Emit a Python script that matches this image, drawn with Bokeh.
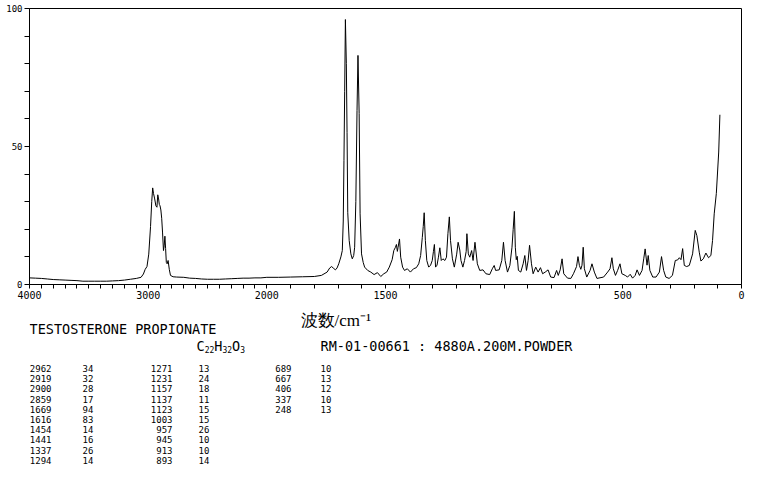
import numpy as np
from bokeh.plotting import figure
from bokeh.models import Range1d, FixedTicker
from bokeh.layouts import column
from bokeh.embed import file_html
from bokeh.resources import INLINE
from bokeh.core.properties import value

# ---------------- data ----------------
wavenumber = [
    4000, 3950, 3900, 3850, 3800, 3750, 3700, 3650, 3600, 3550, 3500, 3450, 3400, 3350, 3300,
    3250, 3200, 3150, 3100, 3060, 3040, 3025, 3010, 2995, 2980, 2970, 2962, 2955, 2945, 2935,
    2926, 2919, 2912, 2906, 2900, 2893, 2886, 2879, 2871, 2865, 2859, 2853, 2847, 2840, 2832,
    2822, 2812, 2790, 2760, 2700, 2650, 2600, 2550, 2500, 2450, 2400, 2350, 2300, 2250, 2200,
    2150, 2100, 2050, 2000, 1950, 1900, 1850, 1800, 1770, 1746, 1735, 1727, 1718, 1711, 1704,
    1697, 1688, 1682, 1678, 1675, 1672, 1669, 1665, 1662, 1659, 1653, 1646, 1640, 1634, 1630,
    1625, 1620, 1616, 1611, 1607, 1601, 1594, 1588, 1575, 1562, 1548, 1534, 1520, 1507, 1495,
    1484, 1472, 1465, 1458, 1454, 1450, 1447, 1441, 1436, 1428, 1420, 1408, 1395, 1382, 1370,
    1360, 1352, 1345, 1341, 1337, 1332, 1326, 1318, 1310, 1303, 1298, 1294, 1289, 1283, 1277,
    1271, 1265, 1258, 1250, 1243, 1237, 1231, 1226, 1218, 1210, 1200, 1194, 1187, 1182, 1174,
    1167, 1160, 1157, 1151, 1145, 1137, 1131, 1123, 1113, 1103, 1089, 1077, 1061, 1050, 1042,
    1036, 1021, 1010, 1003, 996, 986, 976, 967, 962, 957, 953, 949, 945, 940, 930,
    920, 913, 906, 899, 893, 885, 878, 867, 857, 847, 838, 827, 815, 804, 790,
    779, 772, 764, 756, 749, 733, 719, 708, 695, 689, 683, 677, 672, 667, 662,
    652, 638, 630, 620, 609, 581, 564, 554, 546, 540, 531, 522, 512, 504, 490,
    480, 469, 459, 448, 440, 430, 419, 412, 406, 398, 393, 386, 374, 360, 346,
    337, 328, 319, 305, 291, 279, 269, 262, 255, 248, 241, 231, 220, 206, 195,
    188, 178, 171, 161, 150, 139, 129, 122, 115, 106, 96, 91,
]
intensity = [
    2.4, 2.3, 2.2, 2.0, 1.8, 1.7, 1.6, 1.5, 1.4, 1.2, 1.2, 1.2, 1.2, 1.2, 1.3,
    1.4, 1.6, 1.9, 2.2, 2.6, 3.8, 5.5, 6.5, 11, 21, 30, 35, 33, 31, 28.5,
    28, 32.5, 31, 29, 28.5, 27, 24, 19, 12.3, 14, 17.5, 13, 8, 7.5, 8.7,
    5.5, 3.3, 2.8, 2.7, 2.6, 2.3, 2.2, 2.0, 1.9, 1.9, 1.9, 2.0, 2.1, 2.2, 2.3,
    2.3, 2.4, 2.4, 2.6, 2.6, 2.7, 2.8, 2.9, 3.3, 4.5, 6.0, 6.5, 5.8, 5.3, 6.0,
    7.5, 10.0, 12.3, 23, 45, 70, 96, 80, 55, 26, 15.9, 11.1, 9.3, 10.5, 13.5,
    30, 63, 83, 62, 25.6, 11.1, 8.0, 6.3, 5.1, 4.5, 3.6, 4.3, 2.9, 3.9, 4.5,
    6.3, 9.0, 12.3, 13.5, 14.5, 12.0, 13.5, 16.5, 9.9, 6.3, 5.1, 5.7, 4.5, 5.7, 6.1,
    7.5, 10.5, 17, 21, 26, 15.9, 8.7, 6.3, 7.0, 8.7, 12, 14.5, 6.3, 7.0, 9.9,
    13.3, 8.7, 9.3, 8.7, 9.9, 18.4, 24.5, 15.9, 9.3, 6.3, 11, 15.3, 12.5, 8.7, 6.3,
    8.7, 12, 18.4, 11.1, 9.9, 12.3, 8.7, 15.3, 7.5, 5.1, 5.3, 3.9, 3.6, 5.7, 6.9,
    5.1, 5.3, 8.7, 15.3, 8.7, 4.5, 6.9, 13.5, 20, 26.5, 13.5, 9.0, 10.2, 5.1, 4.5,
    7.5, 10.5, 5.1, 8.7, 14.2, 7.5, 3.9, 6.3, 4.5, 6.1, 3.9, 4.5, 5.3, 2.7, 2.5,
    5.1, 3.3, 5.3, 9.3, 3.9, 2.3, 2.2, 3.9, 6.5, 10.1, 6.9, 5.5, 7.0, 13.5, 5.7,
    2.7, 5.1, 7.5, 4.5, 2.2, 2.7, 4.5, 5.7, 9.7, 5.7, 3.3, 5.1, 7.5, 3.9, 3.3,
    2.7, 3.7, 2.3, 3.3, 5.3, 3.3, 5.1, 9.3, 12.9, 7.0, 10.5, 5.1, 2.7, 2.7, 4.5,
    10.1, 5.1, 2.7, 2.2, 3.3, 8.7, 8.9, 9.7, 9.0, 13, 6.9, 6.5, 6.9, 11.1, 19.6,
    17.7, 11.7, 8.5, 9.3, 11.4, 9.7, 10.5, 15.9, 25.6, 33, 48, 61.5,
]

x_tick_values = [4000, 3000, 2000, 1500, 500, 0]
x_minor_step = 100
y_tick_values = [0, 50, 100]
y_minor_step = 10

peak_wn_col1 = [2962, 2919, 2900, 2859, 1669, 1616, 1454, 1441, 1337, 1294]
peak_int_col1 = [34, 32, 28, 17, 94, 83, 14, 16, 26, 14]
peak_wn_col2 = [1271, 1231, 1157, 1137, 1123, 1003, 957, 945, 913, 893]
peak_int_col2 = [13, 24, 18, 11, 15, 15, 26, 10, 10, 14]
peak_wn_col3 = [689, 667, 406, 337, 248]
peak_int_col3 = [10, 13, 12, 10, 13]

compound_name = "TESTOSTERONE PROPIONATE"
formula_parts = ["C", "22", "H", "32", "O", "3"]
formula_is_sub = [False, True, False, True, False, True]
sample_info = "RM-01-00661 : 4880A.200M.POWDER"
x_axis_title = "波数/cm⁻¹"


# compressed scale above 2000 cm-1 (half the scale of the 2000-0 part)
def axis_pos(wn):
    wn = np.asarray(wn, dtype=float)
    return np.where(wn > 2000, 2000 + (wn - 2000) / 2.0, wn)


MONO = "DejaVu Sans Mono"
W = 750
H_TOP = 304
FRAME_L, FRAME_R = 29, 741

# ---------------- spectrum figure ----------------
p = figure(width=W, height=H_TOP,
           x_range=Range1d(float(axis_pos(4000)), float(axis_pos(0))),
           y_range=Range1d(0, 100),
           output_backend="svg", toolbar_location=None,
           min_border_left=FRAME_L, min_border_right=W - FRAME_R, min_border_top=8, min_border_bottom=20)
p.line(axis_pos(wavenumber), intensity, line_color="black", line_width=1)

# every 100 cm-1 gets a tick; only the listed values get a label
all_x_wn = list(range(0, 4001, x_minor_step))
x_ticks = [float(v) for v in axis_pos(all_x_wn)]
p.xaxis.ticker = FixedTicker(ticks=x_ticks)
p.xaxis.major_label_overrides = {
    int(round(u)): (str(w) if w in x_tick_values else "") for u, w in zip(x_ticks, all_x_wn)
}
all_y = list(range(0, 101, y_minor_step))
p.yaxis.ticker = FixedTicker(ticks=all_y)
p.yaxis.major_label_overrides = {v: (str(v) if v in y_tick_values else "") for v in all_y}

for ax in (p.xaxis[0], p.yaxis[0]):
    ax.axis_line_color = "black"
    ax.axis_line_width = 1
    ax.major_tick_line_color = "black"
    ax.minor_tick_line_color = None
    ax.major_tick_in = 0
    ax.major_label_text_font = MONO
    ax.major_label_text_color = "black"
p.xaxis.major_tick_out = 4
p.xaxis.major_label_standoff = 2
p.xaxis.major_label_text_font_size = "10px"
p.yaxis.major_tick_out = 5
p.yaxis.major_label_standoff = 2
p.yaxis.major_label_text_font_size = "9px"
p.xgrid.visible = False
p.ygrid.visible = False
p.outline_line_color = "black"
p.outline_line_alpha = 1.0
p.outline_line_width = 1
p.background_fill_color = "white"
p.border_fill_color = "white"

# ---------------- text block figure (1 unit = 1 px, page coordinates) ----------------
H_TXT = 170
t = figure(width=W, height=H_TXT,
           x_range=Range1d(FRAME_L, FRAME_R), y_range=Range1d(H_TOP + H_TXT, H_TOP),
           output_backend="svg", toolbar_location=None,
           x_axis_location=None, y_axis_location=None,
           min_border_left=FRAME_L, min_border_right=W - FRAME_R, min_border_top=0, min_border_bottom=0)
t.xgrid.visible = False
t.ygrid.visible = False
t.outline_line_color = None
t.background_fill_color = "white"
t.border_fill_color = "white"

t.text(x=[300], y=[320], text=[x_axis_title], text_font=value("Liberation Serif"),
       text_font_size="17px", text_baseline="middle", text_align="left", text_color="black")
t.text(x=[29], y=[328], text=[compound_name], text_font=value(MONO),
       text_font_size="13.5px", text_baseline="middle", text_color="black")

# formula with subscripts
fx, fy, fsz = [], [], []
cur = 196.0
for part, sub in zip(formula_parts, formula_is_sub):
    size = 8.0 if sub else 13.5
    fx.append(cur)
    fy.append(349 if sub else 345.5)
    fsz.append(f"{size}px")
    cur += len(part) * size * 0.602
t.text(x=fx, y=fy, text=formula_parts, text_font=value(MONO), text_font_size=fsz,
       text_baseline="middle", text_color="black")

t.text(x=[320], y=[345], text=[sample_info], text_font=value(MONO),
       text_font_size="13.5px", text_baseline="middle", text_color="black")

# peak table
row0, row_h = 368, 10.2


def table_col(values, x, align):
    ys = [row0 + i * row_h for i in range(len(values))]
    t.text(x=[x] * len(values), y=ys, text=[str(v) for v in values], text_font=value(MONO),
           text_font_size="9px", text_baseline="middle", text_align=align, text_color="black")


table_col(peak_wn_col1, 51, "right")
table_col(peak_int_col1, 82, "left")
table_col(peak_wn_col2, 172, "right")
table_col(peak_int_col2, 198, "left")
table_col(peak_wn_col3, 291, "right")
table_col(peak_int_col3, 320, "left")

layout = column(p, t, spacing=0)
open("out.html", "w").write(file_html(layout, INLINE))
